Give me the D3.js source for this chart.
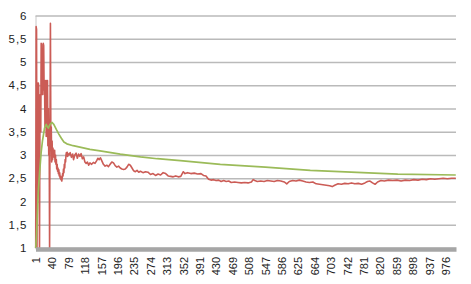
<!DOCTYPE html>
<html>
<head>
<meta charset="utf-8">
<script src="https://cdn.jsdelivr.net/npm/d3@7"></script>
<style>
body { margin: 0; background: #fff; }
svg { display: block; font-family: "Liberation Sans", Arial, sans-serif; }
</style>
</head>
<body>
<div id="canvas"></div>
<script>
"use strict"

/* Drawing dimensions */
let svgWidth = 471;
let svgHeight = 284;
let plotLeft = 35.5;
let plotRight = 456;
let plotTop = 15.5;
let plotBottom = 248;

/* Data */
let categoryCount = 1000;
let xTickLabels = [1, 40, 79, 118, 157, 196, 235, 274, 313, 352, 391, 430, 469,
    508, 547, 586, 625, 664, 703, 742, 781, 820, 859, 898, 937, 976];
let yTickValues = [1, 1.5, 2, 2.5, 3, 3.5, 4, 4.5, 5, 5.5, 6];

// red series: category number and value
let redX = [1, 2, 3, 4, 5, 6, 7, 8, 9, 10, 11, 12, 13, 14, 15, 16, 17, 18, 19, 20,
    21, 22, 23, 24, 25, 26, 27, 28, 29, 30, 31, 32, 33, 34, 35, 36, 37, 38, 39, 40,
    41, 42, 43, 44, 45, 46, 47, 48, 49, 50, 51, 52, 53, 54, 55, 56, 57, 58, 59, 60,
    61, 62, 63, 64, 65, 66, 67, 68, 69, 70, 71, 72, 73, 74, 75, 76, 77, 78,
    80, 83, 86, 89, 91, 94, 97, 100, 103, 106, 109, 112, 115, 118, 121, 124, 127, 130,
    134, 138, 142, 146, 149, 152, 155, 158, 162, 166, 170, 174, 178, 182, 186, 190,
    194, 198, 202, 206, 210, 214, 218, 222, 226, 230, 234, 238, 242, 246, 250, 256,
    262, 268, 274, 280, 286, 292, 298, 304, 310, 316, 322, 328, 334, 340, 346, 352,
    356, 362, 370, 378, 386, 394, 400, 406, 412, 418, 424, 430, 436, 442, 448, 454,
    460, 466, 474, 482, 490, 498, 506, 514, 518, 522, 528, 536, 544, 552, 560, 568,
    576, 584, 592, 598, 604, 612, 620, 628, 636, 644, 652, 660, 668, 676, 684, 692,
    700, 706, 712, 720, 728, 736, 744, 752, 760, 768, 776, 784, 790, 796, 802, 808,
    814, 822, 830, 840, 850, 860, 870, 880, 890, 900, 910, 920, 930, 940, 950, 960,
    970, 980, 990, 1000];
let redY = [1.0, 5.76, 5.7, 1.0, 3.2, 2.2, 4.55, 4.5, 3.3, 1.0, 3.6, 4.3, 3.5, 5.4, 5.38, 4.3, 4.6, 4.3, 5.4, 5.35,
    4.4, 4.6, 3.6, 4.6, 4.35, 3.4, 4.6, 4.3, 4.6, 3.2, 4.0, 3.0, 3.5, 1.0, 3.6, 5.83, 3.4, 3.6, 2.85, 3.3,
    2.9, 3.15, 3.0, 3.1, 2.95, 3.1, 2.85, 3.0, 2.8, 2.9, 2.7, 2.8, 2.65, 2.72, 2.6, 2.68, 2.55, 2.62, 2.5, 2.55,
    2.47, 2.52, 2.44, 2.5, 2.6, 2.55, 2.7, 2.62, 2.8, 2.72, 2.9, 2.85, 3.0, 3.05, 2.98, 3.06, 2.97, 3.03,
    3.0, 3.05, 2.95, 3.02, 2.9, 3.0, 3.04, 2.93, 3.02, 2.97, 3.03, 2.92, 2.96, 2.85, 2.82, 2.85, 2.78, 2.83,
    2.8, 2.84, 2.82, 2.88, 2.93, 2.9, 2.94, 2.88, 2.8, 2.76, 2.78, 2.75, 2.8, 2.85, 2.83, 2.77,
    2.74, 2.76, 2.72, 2.7, 2.69, 2.7, 2.74, 2.8, 2.78, 2.72, 2.66, 2.64, 2.67, 2.63, 2.65, 2.62,
    2.64, 2.63, 2.58, 2.6, 2.56, 2.59, 2.57, 2.62, 2.6, 2.55, 2.54, 2.53, 2.55, 2.53, 2.54, 2.64,
    2.6, 2.62, 2.6, 2.61, 2.59, 2.6, 2.56, 2.55, 2.48, 2.46, 2.47, 2.45, 2.46, 2.43, 2.45, 2.43,
    2.44, 2.41, 2.42, 2.41, 2.40, 2.41, 2.40, 2.42, 2.47, 2.45, 2.43, 2.44, 2.43, 2.45, 2.44, 2.43,
    2.45, 2.44, 2.42, 2.38, 2.43, 2.45, 2.44, 2.46, 2.44, 2.42, 2.41, 2.42, 2.38, 2.37, 2.36, 2.35,
    2.34, 2.32, 2.35, 2.38, 2.37, 2.39, 2.38, 2.4, 2.38, 2.39, 2.37, 2.4, 2.43, 2.44, 2.4, 2.37,
    2.42, 2.45, 2.44, 2.46, 2.45, 2.46, 2.44, 2.46, 2.45, 2.47, 2.46, 2.48, 2.47, 2.49, 2.48, 2.49,
    2.5, 2.49, 2.5, 2.5];

// green series: category number and value
let greenX = [1, 3, 7, 10, 14, 17, 22, 26, 29, 31, 35, 40, 44, 50, 56, 62, 68, 75, 90, 106,
    130, 154, 202, 250, 290, 345, 440, 547, 654, 862, 1000];
let greenY = [1.0, 1.3, 2.2, 2.6, 3.06, 3.3, 3.58, 3.66, 3.6, 3.58, 3.66, 3.7, 3.66, 3.55, 3.45, 3.36, 3.28, 3.24, 3.2, 3.17,
    3.12, 3.09, 3.02, 2.96, 2.92, 2.88, 2.8, 2.74, 2.67, 2.59, 2.57];

let redColor = "#CB5C56";
let greenColor = "#9BBB59";

/* Canvas */
let svg = d3.select("#canvas")
    .append("svg")
    .attr("width", svgWidth)
    .attr("height", svgHeight);

/* Scales */
let xScale = d3.scaleLinear()
    .domain([0.5, categoryCount + 0.5])
    .range([plotLeft, plotRight]);

let yScale = d3.scaleLinear()
    .domain([1, 6])
    .range([plotBottom, plotTop]);

/* Y axis with gridlines */
let yAxis = d3.axisLeft(yScale)
    .tickValues(yTickValues)
    .tickSize(-(plotRight - plotLeft))
    .tickSizeOuter(0)
    .tickPadding(8)
    .tickFormat(d => String(d).replace(".", ","));

svg.append("g")
    .attr("transform", "translate(" + plotLeft + ",0)")
    .call(yAxis)
    .call(g => g.selectAll(".tick line").attr("stroke", "#bababa").attr("stroke-width", 1.3))
    .call(g => g.select(".domain").attr("stroke", "#c8c8c8"))
    .call(g => g.selectAll("text")
        .attr("font-size", 11.5)
        .attr("letter-spacing", 1)
        .attr("fill", "#222")
        .attr("font-family", "Liberation Sans, Arial, sans-serif"));

/* Series lines */
let line = d3.line()
    .x(d => xScale(d[0]))
    .y(d => yScale(d[1]));

svg.append("path")
    .datum(d3.zip(redX, redY))
    .attr("fill", "none")
    .attr("stroke", redColor)
    .attr("stroke-width", 1.6)
    .attr("stroke-linejoin", "round")
    .attr("d", line);

svg.append("path")
    .datum(d3.zip(greenX, greenY))
    .attr("fill", "none")
    .attr("stroke", greenColor)
    .attr("stroke-width", 1.7)
    .attr("stroke-linejoin", "round")
    .attr("d", line);

/* X axis: thick gray bar with vertical labels */
let xAxis = d3.axisBottom(xScale)
    .tickValues(xTickLabels)
    .tickSize(0)
    .tickSizeOuter(0);

svg.append("g")
    .attr("transform", "translate(0," + 249 + ")")
    .call(xAxis)
    .call(g => g.select(".domain").attr("stroke", "#a6a6a6").attr("stroke-width", 4.5))
    .call(g => g.selectAll("text")
        .attr("transform", "rotate(-90)")
        .attr("text-anchor", "end")
        .attr("x", -8)
        .attr("y", 0)
        .attr("dy", "0.35em")
        .attr("font-size", 11)
        .attr("fill", "#222")
        .attr("font-family", "Liberation Sans, Arial, sans-serif"));
</script>
</body>
</html>
